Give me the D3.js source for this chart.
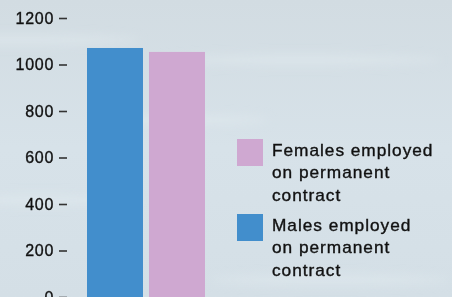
<!DOCTYPE html>
<html>
<head>
<meta charset="utf-8">
<script src="https://cdn.jsdelivr.net/npm/d3@7"></script>
<style>
  body { margin: 0; overflow: hidden; }
  svg { display: block; font-family: "Liberation Sans", Arial, sans-serif; }
</style>
</head>
<body>
<div id="chart"></div>
<script>
// data
const categories = ["Males", "Females"]
const values = [1071, 1054]
const colors = ["#428ecc", "#cfa8d1"]
const yTicks = [0, 200, 400, 600, 800, 1000, 1200]
const legendLabels = [
  ["Females employed", "on permanent", "contract"],
  ["Males employed", "on permanent", "contract"]
]
const legendColors = ["#cfa8d1", "#428ecc"]

const width = 452
const height = 297

const svg = d3.select("#chart")
  .append("svg")
  .attr("width", width)
  .attr("height", height)

// water-ish background
const defs = svg.append("defs")
const grad = defs.append("linearGradient")
  .attr("id", "bg")
  .attr("x1", 0).attr("y1", 0).attr("x2", 0).attr("y2", 1)
grad.append("stop").attr("offset", "0%").attr("stop-color", "#d2dce2")
grad.append("stop").attr("offset", "50%").attr("stop-color", "#d7e2e9")
grad.append("stop").attr("offset", "100%").attr("stop-color", "#d4dfe6")
const blur = defs.append("filter").attr("id", "soft")
blur.append("feGaussianBlur").attr("stdDeviation", 5)

svg.append("rect")
  .attr("width", width)
  .attr("height", height)
  .attr("fill", "url(#bg)")

// a few soft light streaks
const streaks = [[20, 40, 120], [300, 60, 140], [40, 200, 100], [330, 280, 120], [180, 120, 90]]
svg.append("g")
  .attr("filter", "url(#soft)")
  .selectAll("ellipse")
  .data(streaks)
  .enter()
  .append("ellipse")
  .attr("cx", d => d[0])
  .attr("cy", d => d[1])
  .attr("rx", d => d[2])
  .attr("ry", 6)
  .attr("fill", "#e3ebf0")
  .attr("opacity", 0.45)

const y = d3.scaleLinear()
  .domain([0, 1200])
  .range([297, 18])

const x = d3.scaleBand()
  .domain(categories)
  .range([87, 205])
  .paddingInner(0.0968)
  .paddingOuter(0)

// y axis
const yAxis = d3.axisLeft(y)
  .tickValues(yTicks)
  .tickFormat(d3.format("d"))
  .tickSize(8)
  .tickPadding(5)

const ag = svg.append("g")
  .attr("transform", "translate(67,0)")
  .call(yAxis)
ag.select(".domain").remove()
ag.selectAll(".tick line")
  .attr("stroke", "#333")
  .attr("stroke-width", 1.6)
ag.selectAll(".tick text")
  .attr("fill", "#111")
  .attr("font-size", "16px")
  .attr("font-family", "\"Liberation Sans\", Arial, sans-serif")
  .attr("letter-spacing", "0.7px")
  .attr("stroke", "#111")
  .attr("stroke-width", 0.35)

// bars
svg.selectAll(".bar")
  .data(values)
  .enter()
  .append("rect")
  .attr("class", "bar")
  .attr("x", (d, i) => x(categories[i]))
  .attr("y", d => y(d))
  .attr("width", x.bandwidth())
  .attr("height", d => y(0) - y(d))
  .attr("fill", (d, i) => colors[i])

// legend
const legend = svg.append("g")
  .attr("transform", "translate(237,139)")

const item = legend.selectAll(".item")
  .data(legendLabels)
  .enter()
  .append("g")
  .attr("class", "item")
  .attr("transform", (d, i) => `translate(0, ${i * 75})`)

item.append("rect")
  .attr("width", 26)
  .attr("height", 27)
  .attr("fill", (d, i) => legendColors[i])

// glyphs in the reference are a bit wider than Arial, so stretch slightly
item.append("text")
  .attr("transform", "translate(35,17) scale(1.08,1)")
  .attr("font-size", "16px")
  .attr("fill", "#111")
  .attr("stroke", "#111")
  .attr("stroke-width", 0.35)
  .attr("letter-spacing", "0.9px")
  .selectAll("tspan")
  .data(d => d)
  .enter()
  .append("tspan")
  .attr("x", 0)
  .attr("dy", (d, i) => i === 0 ? 0 : 22.3)
  .text(d => d)
</script>
</body>
</html>
